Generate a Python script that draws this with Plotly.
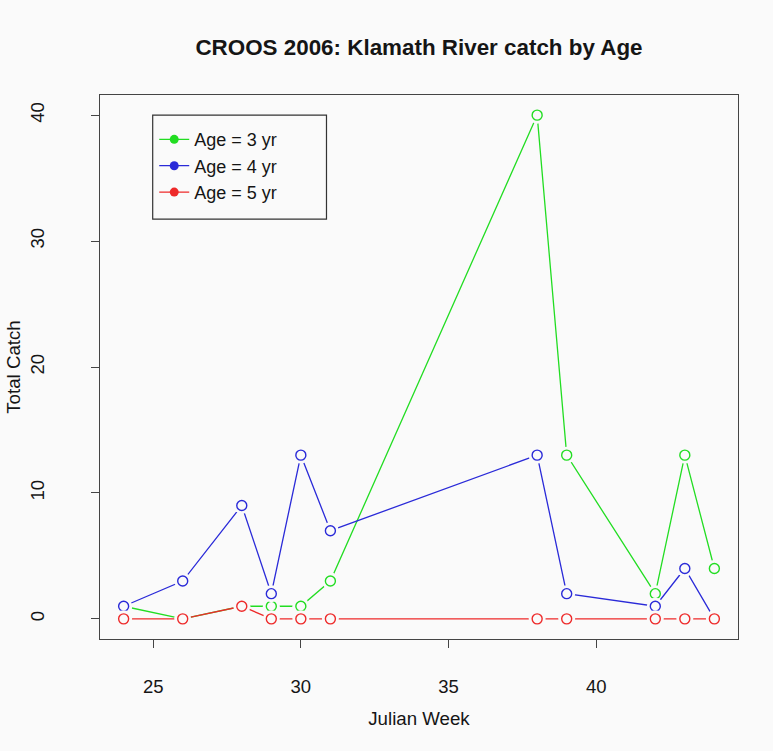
import plotly.graph_objects as go

# CROOS 2006 Klamath River catch, by age class
weeks = [24, 26, 28, 29, 30, 31, 38, 39, 42, 43, 44]
age3 = [1, 0, 1, 1, 1, 3, 40, 13, 2, 13, 4]
age4 = [1, 3, 9, 2, 13, 7, 13, 2, 1, 4, 0]
age5 = [0, 0, 1, 0, 0, 0, 0, 0, 0, 0, 0]

series = [
    ("Age = 3 yr", age3, "#22dd22"),
    ("Age = 4 yr", age4, "#2a2ad8"),
    ("Age = 5 yr", age5, "#ee2a2a"),
]

bg = "#fafafa"
font = "Liberation Sans, Arial, Helvetica, sans-serif"
txt = "#151515"

fig = go.Figure()

# R type="b": line segments with a gap around each point
for name, vals, col in series:
    fig.add_trace(go.Scatter(
        x=weeks, y=vals, mode="lines",
        line=dict(color=col, width=1.3),
        showlegend=False, hoverinfo="skip"
    ))
    fig.add_trace(go.Scatter(
        x=weeks, y=vals, mode="markers",
        marker=dict(symbol="circle", size=17, color=bg, line=dict(width=0)),
        showlegend=False, hoverinfo="skip"
    ))
    fig.add_trace(go.Scatter(
        x=weeks, y=vals, mode="markers", name=name,
        marker=dict(symbol="circle-open", size=10, color=col, line=dict(width=1.4)),
        showlegend=False
    ))

# legend entries use filled dots like the original
for name, vals, col in series:
    fig.add_trace(go.Scatter(
        x=[None], y=[None], mode="lines+markers", name=name,
        line=dict(color=col, width=1.3),
        marker=dict(symbol="circle", size=9, color=col)
    ))

fig.add_shape(
    type="rect", xref="paper", yref="paper",
    x0=0.0826, x1=0.355, y0=0.772, y1=0.963,
    line=dict(color="#333333", width=1.2), fillcolor="rgba(0,0,0,0)"
)

axis_common = dict(
    showline=True, mirror=True, linecolor="#444444", linewidth=1.2,
    ticks="outside", ticklen=8, tickcolor="#444444", tickwidth=1.2,
    showgrid=False, zeroline=False,
    tickfont=dict(family=font, size=18.5, color=txt),
)

fig.update_layout(
    width=773, height=751,
    paper_bgcolor=bg, plot_bgcolor=bg,
    margin=dict(l=100, r=35, t=95, b=112),
    title=dict(
        text="<b>CROOS 2006: Klamath River catch by Age</b>",
        x=(100 + 738) / 2 / 773, xanchor="center",
        y=1 - 47 / 751, yanchor="middle",
        font=dict(family=font, size=22.4, color=txt)
    ),
    xaxis=dict(
        range=[23.2, 44.8], tickvals=[25, 30, 35, 40],
        ticklabelstandoff=23,
        title=dict(text="Julian Week", standoff=15,
                   font=dict(family=font, size=18.7, color=txt)),
        **axis_common
    ),
    yaxis=dict(
        range=[-1.6, 41.6], tickvals=[0, 10, 20, 30, 40],
        tickangle=-90, ticklabelstandoff=40,
        title=dict(text="Total Catch", standoff=0,
                   font=dict(family=font, size=18.7, color=txt)),
        **axis_common
    ),
    legend=dict(
        x=0.085, y=0.952, xanchor="left", yanchor="top",
        bgcolor="rgba(0,0,0,0)", borderwidth=0,
        font=dict(family=font, size=18, color=txt),
        itemwidth=30, tracegroupgap=0
    ),
)

fig.write_html("out.html", config={"displayModeBar": False},
               post_script="document.body.style.margin='0';")
